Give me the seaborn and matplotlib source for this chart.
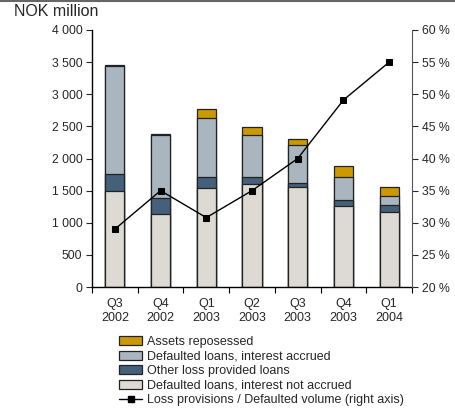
import matplotlib
matplotlib.use("Agg")
import matplotlib.pyplot as plt
import seaborn as sns
import numpy as np
import pandas as pd
from matplotlib.patches import Patch
from matplotlib.lines import Line2D
from matplotlib.ticker import FuncFormatter

quarters = ["Q3\n2002", "Q4\n2002", "Q1\n2003", "Q2\n2003", "Q3\n2003", "Q4\n2003", "Q1\n2004"]
not_accrued = [1500, 1130, 1535, 1600, 1555, 1260, 1165]
other_loss = [260, 250, 175, 115, 57, 88, 105]
accrued = [1680, 990, 918, 654, 592, 358, 140]
assets = [15, 15, 135, 119, 93, 176, 145]
ratio = [29.0, 35.0, 30.8, 35.0, 40.0, 49.1, 55.0]

labels = ["Assets reposessed", "Defaulted loans, interest accrued",
          "Other loss provided loans", "Defaulted loans, interest not accrued",
          "Loss provisions / Defaulted volume (right axis)"]
colors = ["#CC9900", "#A9B5BF", "#44607A", "#DDDAD3"]

sns.set_style("white")
plt.rcParams['font.family'] = ['Liberation Sans', 'DejaVu Sans']

df = pd.DataFrame({"q": quarters, "na": not_accrued, "ol": other_loss,
                   "ac": accrued, "as": assets})
c1 = df["na"]
c2 = c1 + df["ol"]
c3 = c2 + df["ac"]
c4 = c3 + df["as"]

fig = plt.figure(figsize=(4.55, 4.08), dpi=100)
ax = fig.add_axes([92/455, 1-287/408, 320/455, 257/408])

for cum, col in zip([c4, c3, c2, c1], colors):
    sns.barplot(x=df["q"], y=cum, ax=ax, color=col, width=0.42,
                edgecolor="#222222", linewidth=0.9, saturation=1, order=quarters)

ax.set_ylim(0, 4000)
ax.set_xlim(-0.5, 6.5)
ax.set_yticks(np.arange(0, 4001, 500))
ax.yaxis.set_major_formatter(FuncFormatter(lambda v, p: f"{int(v):,}".replace(",", " ")))
ax.set_xlabel("")
ax.set_ylabel("")
ax.set_xticks(np.arange(-0.5, 7, 1))
ax.set_xticklabels([])
ax.set_xticks(np.arange(len(quarters)), minor=True)
ax.set_xticklabels(quarters, minor=True)
ax.tick_params(axis="x", which="major", length=4, direction="out", color="black", bottom=True)
ax.tick_params(axis="x", which="minor", length=0, pad=8, labelsize=9)
ax.tick_params(axis="y", length=4, direction="out", labelsize=8.8, left=True, pad=3)
for s in ["top", "right"]:
    ax.spines[s].set_visible(False)
ax.spines["left"].set_color("black")
ax.spines["bottom"].set_color("black")
ax.spines["left"].set_linewidth(1.0)
ax.spines["bottom"].set_linewidth(1.0)

ax2 = ax.twinx()
sns.lineplot(x=np.arange(len(quarters)), y=ratio, ax=ax2, color="black", lw=1.0,
             marker="s", markersize=4.5, markeredgecolor="black")
ax2.set_ylim(20, 60)
ax2.set_yticks(np.arange(20, 61, 5))
ax2.yaxis.set_major_formatter(FuncFormatter(lambda v, p: f"{int(v)} %"))
ax2.tick_params(axis="y", length=4, direction="out", labelsize=8.8, right=True, pad=3)
for s in ["top", "left", "bottom"]:
    ax2.spines[s].set_visible(False)
ax2.spines["right"].set_color("#555555")
ax2.set_xlim(-0.5, 6.5)

fig.text(14/455, 1-12/408, "NOK million", fontsize=11.5, va="center", ha="left")
fig.add_artist(Line2D([0, 1], [1-1/408, 1-1/408], color="#666666", lw=1.5))

handles = [Patch(facecolor=c, edgecolor="#222222", linewidth=0.9) for c in colors]
handles.append(Line2D([0], [0], color="black", lw=1.0, marker="s", markersize=4.5))
fig.legend(handles, labels, loc="upper left", bbox_to_anchor=(119/455, 1-336/408),
           frameon=False, fontsize=9, borderpad=0, handlelength=1.85,
           handletextpad=0.4, labelspacing=0.2, borderaxespad=0)

fig.savefig("out.png", dpi=100)
